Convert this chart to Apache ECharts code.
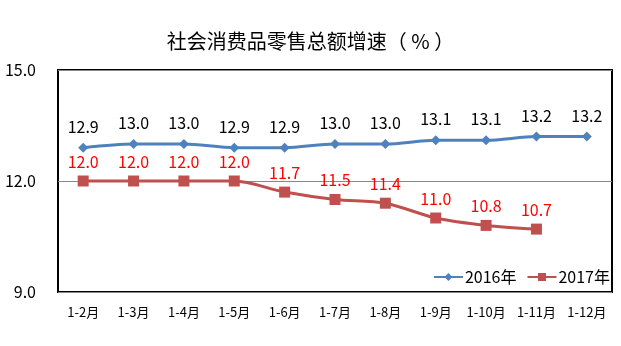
<!DOCTYPE html>
<html>
<head>
<meta charset="utf-8">
<script src="https://cdn.jsdelivr.net/npm/echarts@6/dist/echarts.min.js"></script>
<style>
  html, body { margin: 0; padding: 0; background: #fff; }
  #chart { width: 621px; height: 346px; }
</style>
</head>
<body>
<div id="chart"></div>
<script>
// Cumulative months of the year
const categories = ['1-2月', '1-3月', '1-4月', '1-5月', '1-6月', '1-7月', '1-8月', '1-9月', '1-10月', '1-11月', '1-12月'];
// Growth rate of total retail sales of consumer goods (%)
const growth2016 = [12.9, 13.0, 13.0, 12.9, 12.9, 13.0, 13.0, 13.1, 13.1, 13.2, 13.2];
const growth2017 = [12.0, 12.0, 12.0, 12.0, 11.7, 11.5, 11.4, 11.0, 10.8, 10.7];
const yTicks = [9.0, 12.0, 15.0];

const font = '"Noto Sans CJK SC", "Noto Sans", sans-serif';

const chart = echarts.init(document.getElementById('chart'));
chart.setOption({
  animation: false,
  title: {
    text: '社会消费品零售总额增速（ % ）',
    left: 'center',
    top: 26,
    textStyle: { fontFamily: font, fontSize: 20, fontWeight: 'normal', color: '#000' }
  },
  legend: {
    right: 6,
    top: 264,
    itemWidth: 29,
    itemHeight: 10,
    itemGap: 10,
    textStyle: { fontFamily: font, fontSize: 16, color: '#000', padding: [0, 0, 0, -3] },
    data: ['2016年', '2017年']
  },
  grid: {
    left: 58, right: 9, top: 70, bottom: 54,
    show: true,
    borderColor: '#000',
    borderWidth: 2,
    containLabel: false
  },
  xAxis: {
    type: 'category',
    data: categories,
    boundaryGap: true,
    axisLine: { show: false },
    axisTick: { show: false },
    axisLabel: { interval: 0, margin: 14, fontFamily: font, fontSize: 13, color: '#000' }
  },
  yAxis: {
    type: 'value',
    min: yTicks[0],
    max: yTicks[yTicks.length - 1],
    interval: 3,
    axisLine: { show: false },
    axisTick: { show: false },
    splitLine: { show: true, lineStyle: { color: '#888', width: 1 } },
    axisLabel: {
      margin: 22,
      fontFamily: font, fontSize: 16, color: '#000',
      formatter: v => v.toFixed(1)
    }
  },
  series: [
    {
      name: '2016年',
      type: 'line',
      data: growth2016,
      smooth: 0.3,
      symbol: 'diamond',
      symbolSize: 10,
      lineStyle: { color: '#4F81BD', width: 3 },
      itemStyle: { color: '#4F81BD' },
      label: {
        show: true, position: 'top', distance: 8,
        fontFamily: font, fontSize: 16, color: '#000',
        formatter: p => p.value.toFixed(1)
      }
    },
    {
      name: '2017年',
      type: 'line',
      data: growth2017,
      smooth: 0.3,
      symbol: 'rect',
      symbolSize: 11,
      lineStyle: { color: '#C0504D', width: 3 },
      itemStyle: { color: '#C0504D' },
      label: {
        show: true, position: 'top', distance: 6,
        fontFamily: font, fontSize: 16, color: '#FF0000',
        formatter: p => p.value.toFixed(1)
      }
    }
  ]
});
</script>
</body>
</html>
